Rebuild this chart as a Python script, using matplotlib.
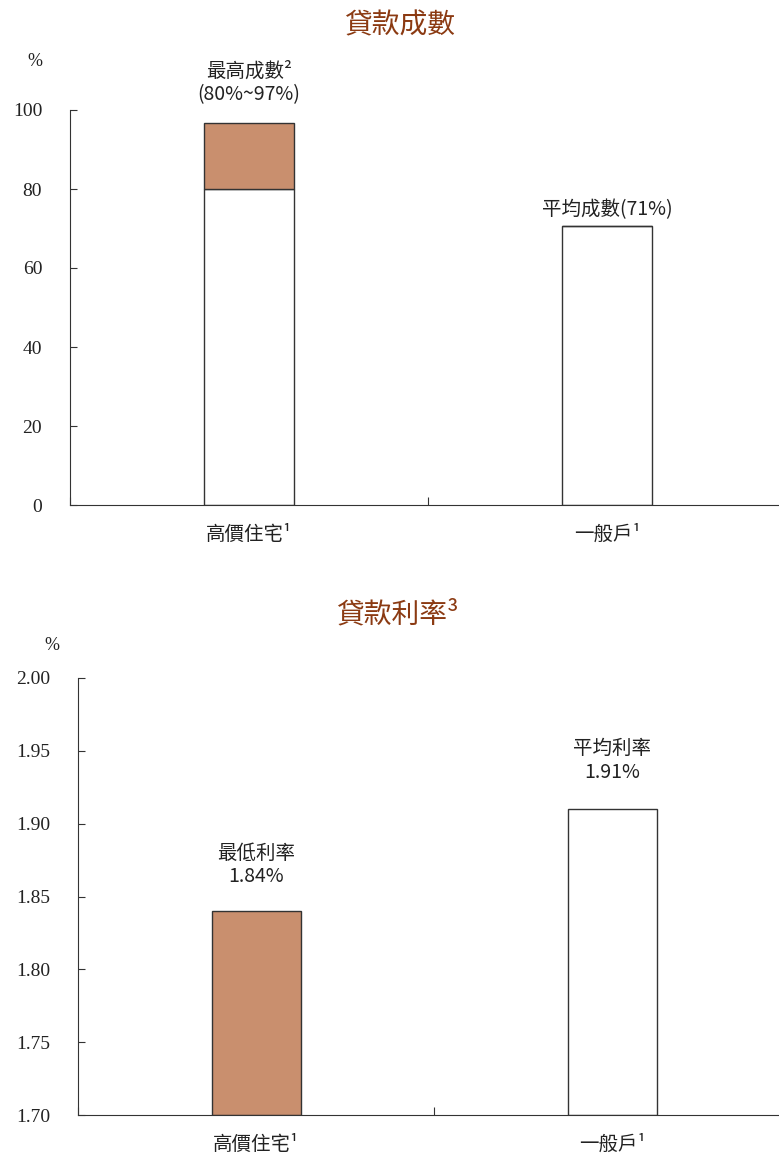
import matplotlib
matplotlib.use("Agg")
import matplotlib.pyplot as plt

cjk = ['Noto Sans CJK TC', 'DejaVu Sans']
serif = ['Liberation Serif', 'DejaVu Serif']
plt.rcParams['font.family'] = cjk

# data
categories = ['高價住宅¹', '一般戶¹']
ratio_base = [80, 70.6]          # white part
ratio_extra = [16.7, 0]          # brown part (80%~97%)
ratio_labels = ['最高成數²\n(80%~97%)', '平均成數(71%)']
rate_values = [1.84, 1.91]
rate_labels = ['最低利率\n1.84%', '平均利率\n1.91%']

brown = '#c98f6e'
title_col = '#8b3a12'
edge = '#333333'

fig = plt.figure(figsize=(7.79, 11.54), dpi=100)

def style_axes(ax):
    ax.spines['top'].set_visible(False)
    ax.spines['right'].set_visible(False)
    ax.spines['left'].set_color(edge)
    ax.spines['bottom'].set_color(edge)
    ax.set_xlim(0, 2)
    ax.set_xticks([0, 1])
    ax.set_xticklabels([])
    ax.tick_params(axis='both', direction='in', length=5, color=edge)
    ax.tick_params(axis='x', length=6)
    for i, c in enumerate(categories):
        ax.annotate(c, (i + 0.5, 0), xycoords=('data', 'axes fraction'),
                    xytext=(0, -21), textcoords='offset points',
                    ha='center', va='center', fontsize=14, color='#222222')
    for lab in ax.get_yticklabels():
        lab.set_family(serif)
        lab.set_fontsize(14)
        lab.set_color('#222222')

# top panel (axes runs a little past the right edge, as in the original)
ax1 = fig.add_axes([70/779, 1-505/1154, 716/779, (505-110)/1154])
xpos = [0.5, 1.5]
ax1.bar(xpos, ratio_base, width=0.25, color='white', edgecolor=edge, linewidth=1)
ax1.bar(xpos, ratio_extra, bottom=ratio_base, width=0.25, color=brown,
        edgecolor=edge, linewidth=1)
ax1.set_ylim(0, 100)
ax1.set_yticks(range(0, 101, 20))
ax1.tick_params(axis='y', pad=20)
style_axes(ax1)
tops = [b + e for b, e in zip(ratio_base, ratio_extra)]
offs = [13, 4]
for x, t, lab, o in zip(xpos, tops, ratio_labels, offs):
    ax1.annotate(lab, (x, t), xytext=(0, o), textcoords='offset points',
                 ha='center', va='bottom', fontsize=14, linespacing=1.15,
                 color='#222222')

# bottom panel
ax2 = fig.add_axes([78/779, 1-1115/1154, 712/779, (1115-678)/1154])
ax2.bar(xpos, [v - 1.70 for v in rate_values], bottom=1.70, width=0.25,
        color=[brown, 'white'], edgecolor=edge, linewidth=1)
ax2.set_ylim(1.70, 2.00)
ax2.set_yticks([1.70, 1.75, 1.80, 1.85, 1.90, 1.95, 2.00])
ax2.set_yticklabels(['%.2f' % v for v in ax2.get_yticks()])
ax2.tick_params(axis='y', pad=20)
style_axes(ax2)
offs2 = [17, 19]
for x, v, lab, o in zip(xpos, rate_values, rate_labels, offs2):
    ax2.annotate(lab, (x, v), xytext=(0, o), textcoords='offset points',
                 ha='center', va='bottom', fontsize=14, linespacing=1.15,
                 color='#222222')

# titles and unit labels
fig.text(400/779, 1-25/1154, '貸款成數', ha='center', va='center',
         fontsize=20, color=title_col)
fig.text(397/779, 1-614/1154, '貸款利率³', ha='center', va='center',
         fontsize=20, color=title_col)
fig.text(35/779, 1-62/1154, '%', ha='center', va='center', fontsize=13,
         family=serif, color='#222222')
fig.text(52/779, 1-645/1154, '%', ha='center', va='center', fontsize=13,
         family=serif, color='#222222')

fig.savefig('out.png', dpi=100)
